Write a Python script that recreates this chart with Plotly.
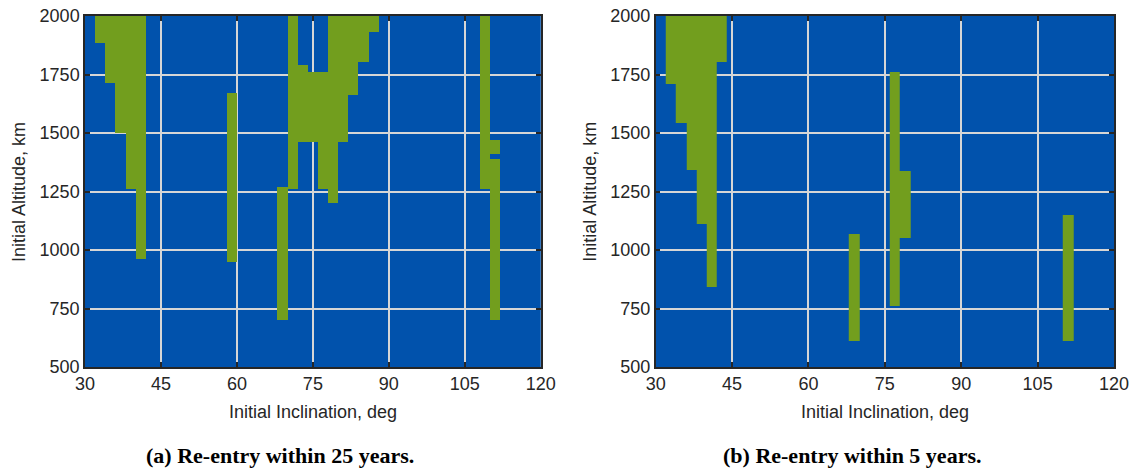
import plotly.graph_objects as go
from plotly.subplots import make_subplots

# (a) Re-entry within 25 years: green cells, by 2-deg inclination column (centre), altitude from/to
left_inc = [33, 35, 37, 39, 41, 59, 69, 71, 73, 75, 77, 79, 81, 83, 85, 87, 109, 111, 111]
left_low = [1885, 1714, 1502, 1261, 960, 950, 700, 1261, 1461, 1461, 1261, 1202, 1461, 1661, 1803, 1932, 1261, 1411, 700]
left_high = [2000, 2000, 2000, 2000, 2000, 1671, 1271, 2000, 1792, 1761, 1761, 2000, 2000, 2000, 2000, 2000, 2000, 1471, 1390]

# (b) Re-entry within 5 years
right_inc = [33, 35, 37, 39, 41, 43, 69, 77, 79, 111]
right_low = [1711, 1541, 1341, 1113, 843, 1802, 612, 762, 1051, 612]
right_high = [2000, 2000, 2000, 2000, 2000, 2000, 1070, 1759, 1338, 1150]

inc_edges = list(range(30, 122, 2))
x_ticks = [30, 45, 60, 75, 90, 105, 120]
y_ticks = [500, 750, 1000, 1250, 1500, 1750, 2000]
captions = ["(a) Re-entry within 25 years.", "(b) Re-entry within 5 years."]

BLUE = "#0152AC"
GREEN = "#729E1E"
TXT = "#262626"
TICKFONT = dict(family="Liberation Sans, Arial", size=18, color=TXT)

W, H = 1134, 470
ML, MT = 85, 16
MR = W - 1114.5
MB = H - 367
PW, PH = W - ML - MR, H - MT - MB


def px(x):
    return (x - ML) / PW


def py(y):
    return (H - MB - y) / PH


def grid(inc, lo, hi):
    y_edges = sorted(set([500, 2000] + lo + hi))
    z = []
    for r in range(len(y_edges) - 1):
        ym = 0.5 * (y_edges[r] + y_edges[r + 1])
        row = []
        for c in range(len(inc_edges) - 1):
            xm = 0.5 * (inc_edges[c] + inc_edges[c + 1])
            hit = any(abs(i - xm) < 0.5 and l <= ym <= h for i, l, h in zip(inc, lo, hi))
            row.append(1 if hit else None)
        z.append(row)
    return y_edges, z


fig = make_subplots(rows=1, cols=2)

for col, (inc, lo, hi) in enumerate([(left_inc, left_low, left_high),
                                      (right_inc, right_low, right_high)], start=1):
    y_edges, z = grid(inc, lo, hi)
    fig.add_trace(go.Heatmap(
        x=inc_edges, y=y_edges, z=z, zmin=0, zmax=1,
        colorscale=[[0, GREEN], [1, GREEN]], showscale=False,
        hoverinfo="skip"), row=1, col=col)

axis_common = dict(showgrid=True, gridcolor="#D6D6D6", gridwidth=1.5,
                   showline=True, linecolor="#262626", linewidth=1.5, mirror="ticks",
                   ticks="inside", ticklen=5, tickcolor="#262626", tickwidth=1.5,
                   tickfont=TICKFONT, zeroline=False, automargin=False,
                   ticklabeloverflow="allow", layer="above traces")

fig.update_layout(
    width=W, height=H, margin=dict(l=ML, r=MR, t=MT, b=MB),
    paper_bgcolor="white", plot_bgcolor=BLUE,
    xaxis=dict(domain=[0, px(541)], range=[30, 120], tickvals=x_ticks, **axis_common),
    xaxis2=dict(domain=[px(656), 1], range=[30, 120], tickvals=x_ticks, **axis_common),
    yaxis=dict(domain=[0, 1], range=[500, 2000], tickvals=y_ticks, **axis_common),
    yaxis2=dict(domain=[0, 1], range=[500, 2000], tickvals=y_ticks, **axis_common),
)

title_font = dict(family="Liberation Sans, Arial", size=18, color=TXT)
ann = dict(xref="paper", yref="paper", showarrow=False, xanchor="center", yanchor="middle")
for xc in [313, 885]:
    fig.add_annotation(x=px(xc), y=py(412), text="Initial Inclination, deg", font=title_font, **ann)
for xc in [19, 590]:
    fig.add_annotation(x=px(xc), y=py(192), textangle=-90, text="Initial Altitude, km", font=title_font, **ann)

for xc, text in zip([280, 852], captions):
    fig.add_annotation(x=px(xc), y=py(455), text="<b>" + text + "</b>",
                       font=dict(family="Liberation Serif, Times New Roman", size=22, color="black"), **ann)

fig.write_html("out.html", config={"displayModeBar": False},
               post_script="document.body.style.margin='0';")
